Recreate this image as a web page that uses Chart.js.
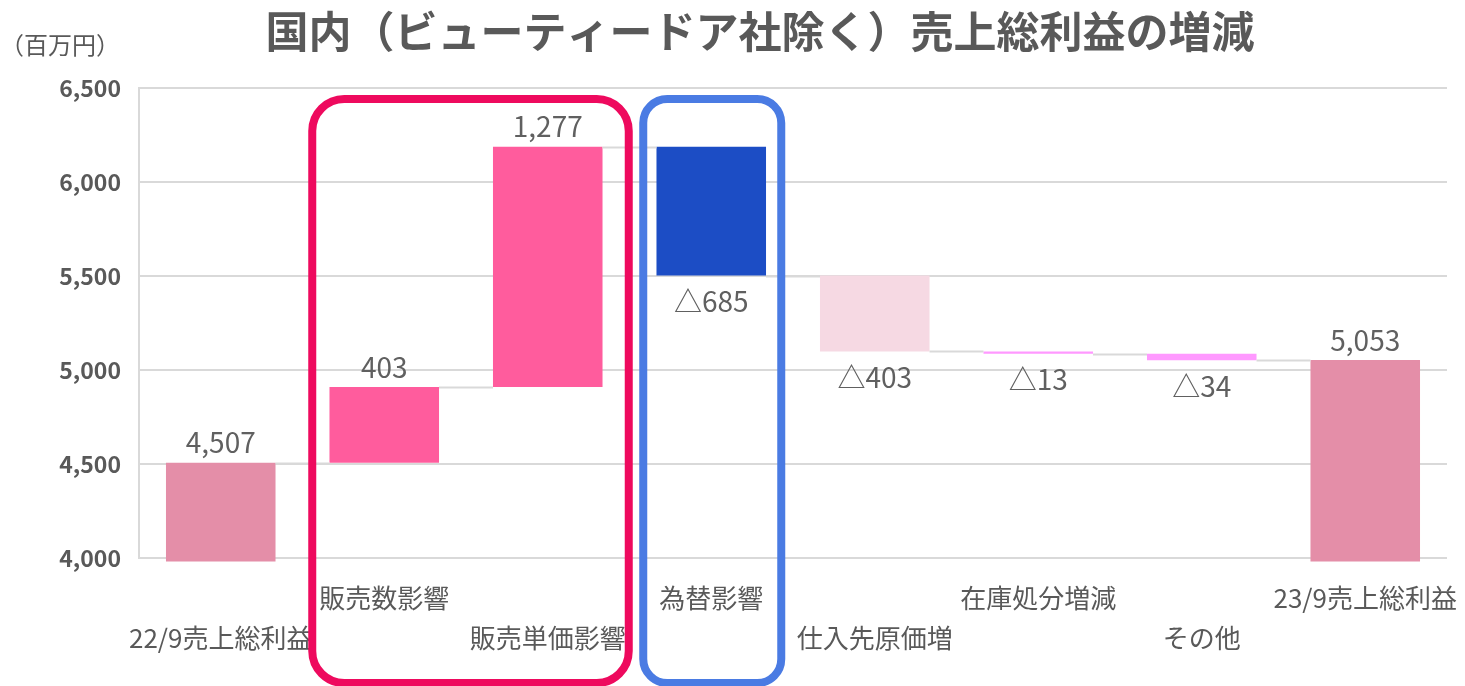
<!DOCTYPE html>
<html lang="ja">
<head>
<meta charset="utf-8">
<script src="https://cdn.jsdelivr.net/npm/chart.js@4"></script>
<style>
  html, body { margin: 0; padding: 0; background: #ffffff; }
  #wrap { width: 1465px; height: 686px; position: relative; }
</style>
</head>
<body>
<div id="wrap"><canvas id="gpChart" width="1465" height="686"></canvas></div>
<script>
const categories = ['22/9売上総利益', '販売数影響', '販売単価影響', '為替影響', '仕入先原価増', '在庫処分増減', 'その他', '23/9売上総利益'];
const changes = [4507, 403, 1277, -685, -403, -13, -34, 5053];
const kinds = ['total', 'up', 'up', 'fx', 'cost', 'small', 'small', 'total'];
const valueLabels = ['4,507', '403', '1,277', '△685', '△403', '△13', '△34', '5,053'];
const yTicks = [4000, 4500, 5000, 5500, 6000, 6500];

const textClr = '#595959';
const gridClr = '#d9d9d9';
const jpFont = '"Noto Sans CJK JP", "Noto Sans", sans-serif';
const barBase = 3982;

const kindColors = {
  total: '#e48ea8',
  up: '#ff5c9d',
  fx: '#1c4dc5',
  cost: '#f6d9e3',
  small: '#ff99ff'
};

// floating ranges for the waterfall
let running = 0;
const ranges = changes.map((v, i) => {
  if (kinds[i] === 'total') {
    running = v;
    return [barBase, v];
  }
  const start = running;
  running += v;
  return [start, running];
});

const staggered = categories.map((c, i) => i % 2 === 0 ? ['', c] : [c, '']);

const waterfallExtras = {
  id: 'waterfallExtras',
  afterDatasetsDraw(chart) {
    const { ctx, scales } = chart;
    const meta = chart.getDatasetMeta(0);
    const y = scales.y;
    ctx.save();

    // connectors
    ctx.strokeStyle = gridClr;
    ctx.lineWidth = 2;
    for (let i = 0; i < meta.data.length - 1; i++) {
      const a = meta.data[i], b = meta.data[i + 1];
      const level = ranges[i][1];
      const py = Math.round(y.getPixelForValue(level)) + 0.5;
      ctx.beginPath();
      ctx.moveTo(a.x + a.width / 2, py);
      ctx.lineTo(b.x - b.width / 2, py);
      ctx.stroke();
    }

    // value labels
    ctx.fillStyle = '#606060';
    ctx.font = '28px ' + jpFont;
    ctx.textAlign = 'center';
    meta.data.forEach((bar, i) => {
      const top = Math.min(bar.y, bar.base);
      const bottom = Math.max(bar.y, bar.base);
      if (changes[i] < 0) {
        ctx.textBaseline = 'top';
        ctx.fillText(valueLabels[i], bar.x, bottom + 12);
      } else {
        ctx.textBaseline = 'bottom';
        ctx.fillText(valueLabels[i], bar.x, top - 6);
      }
    });
    ctx.restore();
  },
  afterDraw(chart) {
    const { ctx, scales } = chart;
    const x = scales.x;
    ctx.save();

    // title and unit
    ctx.fillStyle = textClr;
    ctx.textAlign = 'center';
    ctx.textBaseline = 'middle';
    ctx.font = 'bold 43px ' + jpFont;
    ctx.fillText('国内（ビューティードア社除く）売上総利益の増減', 760, 32);
    ctx.textAlign = 'left';
    ctx.font = '24px ' + jpFont;
    ctx.fillText('（百万円）', 0, 45);

    // highlight frames
    ctx.lineWidth = 8;
    ctx.strokeStyle = '#ee0a5e';
    const rl = x.getPixelForValue(1) - 72;
    const rr = x.getPixelForValue(2) + 81;
    ctx.beginPath();
    ctx.roundRect(rl, 99, rr - rl, 584, 32);
    ctx.stroke();
    ctx.strokeStyle = '#4a7be3';
    ctx.beginPath();
    ctx.roundRect(x.getPixelForValue(3) - 68, 99, 138, 584, 24);
    ctx.stroke();
    ctx.restore();
  }
};

const ctx = document.getElementById('gpChart').getContext('2d');

const gpChart = new Chart(ctx, {
  type: 'bar',
  data: {
    labels: staggered,
    datasets: [{
      data: ranges,
      backgroundColor: kinds.map(k => kindColors[k]),
      borderWidth: 0,
      borderSkipped: false,
      barPercentage: 0.67,
      categoryPercentage: 1.0,
      clip: false
    }]
  },
  options: {
    responsive: false,
    animation: false,
    layout: {
      padding: { top: 88, right: 18, bottom: 0, left: 0 }
    },
    plugins: {
      legend: { display: false },
      title: { display: false },
      tooltip: { enabled: false }
    },
    scales: {
      y: {
        min: 4000,
        max: 6500,
        afterFit(scale) { scale.width = 139; },
        afterBuildTicks(scale) { scale.ticks = yTicks.map(v => ({ value: v })); },
        ticks: {
          color: textClr,
          padding: 18,
          font: { family: jpFont, size: 23, weight: 'bold' },
          callback: v => v.toLocaleString('en-US')
        },
        grid: {
          color: gridClr,
          lineWidth: 2,
          drawTicks: false
        },
        border: { display: true, color: gridClr, width: 2 }
      },
      x: {
        afterFit(scale) {
          scale.height = 128;
          scale.paddingLeft = 0;
          scale.paddingRight = 0;
        },
        ticks: {
          color: textClr,
          padding: 20,
          autoSkip: false,
          maxRotation: 0,
          font: { family: jpFont, size: 26, lineHeight: 1.55 }
        },
        grid: { display: false, drawTicks: false },
        border: { display: false }
      }
    }
  },
  plugins: [waterfallExtras]
});
</script>
</body>
</html>
